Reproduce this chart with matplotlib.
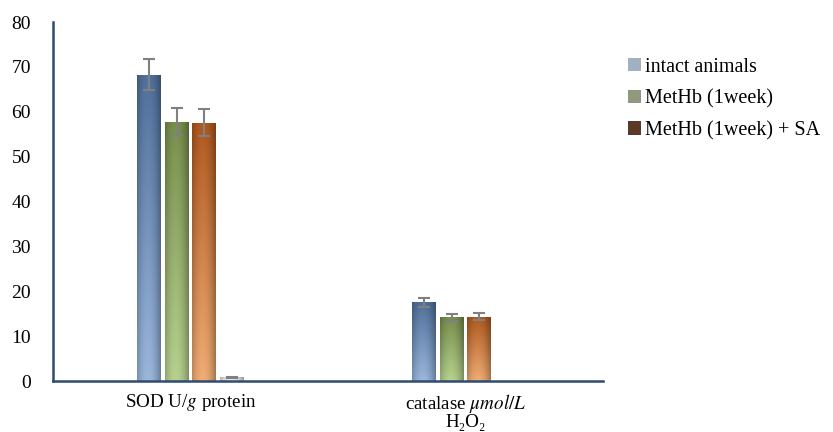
import numpy as np
import matplotlib
matplotlib.use("Agg")
import matplotlib.pyplot as plt
from matplotlib.patches import Patch
from matplotlib.colors import to_rgb

plt.rcParams["font.family"] = ["Liberation Serif", "DejaVu Serif"]
plt.rcParams["mathtext.fontset"] = "stix"

# data
categories = ["SOD U/$g$ protein", "catalase $\\mu mol/L$\nH\u2082O\u2082"]
series_names = ["intact animals", "MetHb (1week)", "MetHb (1week) + SA", ""]
intact = [68.3, 17.5]
intact_err = [3.4, 1.0]
methb = [57.8, 14.2]
methb_err = [3.0, 0.8]
methb_sa = [57.6, 14.3]
methb_sa_err = [3.0, 0.8]
extra = [0.8, np.nan]
extra_err = [0.2, np.nan]

values = [intact, methb, methb_sa, extra]
errors = [intact_err, methb_err, methb_sa_err, extra_err]
top_colors = ["#4a6890", "#6f8447", "#a3521c", "#c8c8c8"]
bottom_colors = ["#8fa9cc", "#a9c284", "#dea06c", "#e4e4e4"]
legend_colors = ["#a3b0c2", "#8f9a7c", "#5a3a24"]

fig = plt.figure(figsize=(8.33, 4.32), dpi=100)
ax = fig.add_axes([0.0636, 0.118, 0.66, 0.831])

x = np.arange(len(categories))
width = 0.087
step = 0.1


def shade(patch, top, bottom):
    # cylinder-ish gradient clipped to the bar
    h = patch.get_height()
    if not np.isfinite(h) or h <= 0:
        return
    t = np.array(to_rgb(top))
    b = np.array(to_rgb(bottom))
    nx, ny = 40, 100
    u = np.linspace(-1, 1, nx)[None, :, None]
    v = np.linspace(1, 0, ny)[:, None, None]  # row 0 = top
    col = t * v + b * (1 - v)
    horiz = 1.08 - 0.28 * np.abs(u + 0.1) ** 2
    col = col * horiz
    col = np.clip(col, 0, 1)
    x0 = patch.get_x()
    im = ax.imshow(col, extent=[x0, x0 + patch.get_width(), 0, h],
                   aspect="auto", zorder=2, interpolation="bilinear")
    im.set_clip_path(patch)


for i, (vals, errs) in enumerate(zip(values, errors)):
    pos = x + (i - 1.5) * step
    bars = ax.bar(pos, vals, width, color=top_colors[i], zorder=1,
                  edgecolor="none")
    for b in bars:
        shade(b, top_colors[i], bottom_colors[i])
    ax.errorbar(pos, vals, yerr=errs, fmt="none", ecolor="#808080",
                elinewidth=1.5, capsize=4.5, capthick=1.5, zorder=3)

ax.set_xlim(-0.5, 1.5)
ax.set_ylim(0, 80)
ax.set_yticks(range(0, 81, 10))
ax.set_xticks(x)
ax.set_xticklabels(categories, fontsize=13.7, linespacing=0.9)
ax.tick_params(axis="y", length=0, pad=16, labelsize=14)
ax.tick_params(axis="x", length=0, pad=8)
for lab in ax.get_yticklabels():
    lab.set_horizontalalignment("right")

for s in ["top", "right"]:
    ax.spines[s].set_visible(False)
for s in ["left", "bottom"]:
    ax.spines[s].set_color("#2f4b70")
    ax.spines[s].set_linewidth(1.8)

handles = [Patch(facecolor=c, edgecolor="none") for c in legend_colors]
fig.legend(handles, series_names[:3], loc="upper left",
           bbox_to_anchor=(0.744, 0.885), frameon=False, fontsize=14.5,
           handlelength=0.65, handleheight=0.65, handletextpad=0.2,
           labelspacing=0.62, borderaxespad=0)

fig.savefig("out.png", dpi=100)
